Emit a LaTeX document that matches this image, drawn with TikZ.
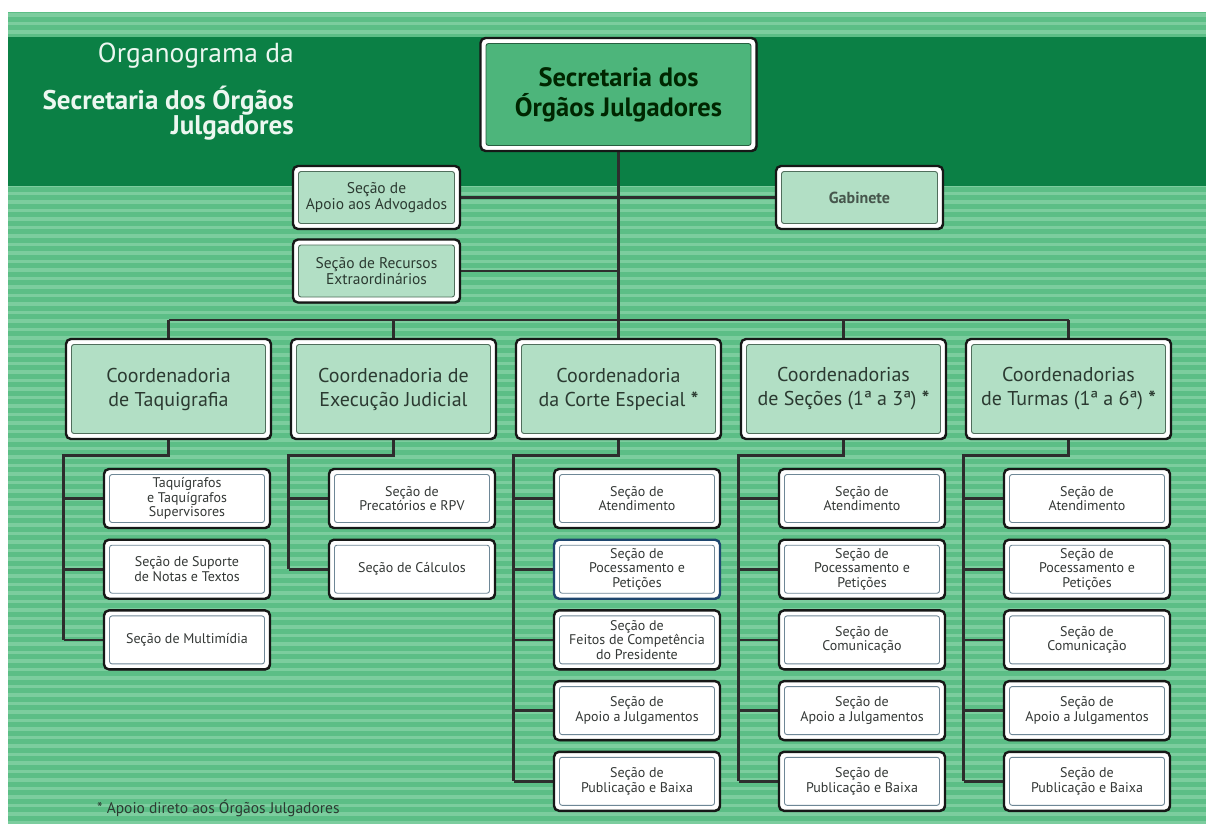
\documentclass[tikz,border=0pt]{standalone}
\usepackage{fontspec}
\setmainfont{PT Sans}
\usetikzlibrary{calc}
\pgfdeclarelayer{bg}
\pgfdeclarelayer{wires}
\pgfsetlayers{bg,wires,main}

\definecolor{stripebase}{RGB}{92,190,134}
\definecolor{stripelight}{RGB}{124,205,158}
\definecolor{band}{RGB}{11,128,69}
\definecolor{topfill}{RGB}{77,181,123}
\definecolor{topline}{RGB}{40,95,65}
\definecolor{lgreen}{RGB}{178,223,197}
\definecolor{lline}{RGB}{80,110,92}
\definecolor{wline}{RGB}{110,135,150}
\definecolor{frc}{RGB}{22,24,23}
\definecolor{bluefr}{RGB}{30,70,110}
\definecolor{wirec}{RGB}{45,45,45}
\definecolor{txt}{RGB}{43,58,49}
\definecolor{txtw}{RGB}{52,56,54}
\definecolor{gabtxt}{RGB}{70,86,76}
\definecolor{titlec}{RGB}{236,247,240}

\tikzset{
  boxfill/.store in=\bxfill,
  boxline/.store in=\bxline,
  frame/.style={rectangle, draw=#1, line width=2.4pt, rounded corners=5pt,
    fill=white, inner sep=0pt, align=center,
    preaction={fill=#1, transform canvas={xshift=0.9pt,yshift=-0.9pt}},
    path picture={\draw[draw=\bxline, fill=\bxfill, line width=0.9pt, rounded corners=2.5pt]
      ([shift={(5.5pt,5.5pt)}]path picture bounding box.south west) rectangle
      ([shift={(-5.5pt,-5.5pt)}]path picture bounding box.north east);}},
  frame/.default=frc,
  topbox/.style={frame, boxfill=topfill, boxline=topline, text=black!85!green,
    minimum width=276pt, minimum height=113pt, font=\fontsize{26.5}{30}\selectfont\bfseries},
  sidebox/.style={frame, boxfill=lgreen, boxline=lline, text=txt,
    minimum width=167pt, minimum height=63pt, font=\fontsize{15.5}{16}\selectfont},
  coordbox/.style={frame, boxfill=lgreen, boxline=lline, text=txt,
    minimum width=205pt, minimum height=100pt, font=\fontsize{20}{24}\selectfont},
  unitbox/.style={frame=#1, boxfill=white, boxline=wline, text=txtw,
    minimum width=166pt, minimum height=59pt, font=\fontsize{14}{14.5}\selectfont},
  unitbox/.default=frc,
  wire/.style={draw=wirec, line width=2.6pt},
  titletext/.style={anchor=east, inner sep=0pt, text=titlec},
}

\begin{document}
\begin{tikzpicture}[x=1pt,y=-1pt]
\useasboundingbox (0,0) rectangle (1206,823);

% striped background with the dark header band
\begin{pgfonlayer}{bg}
  \fill[white] (0,0) rectangle (1206,823);
  \begin{scope}
    \clip (8,12) rectangle (1206,823);
    \fill[stripebase] (8,12) rectangle (1206,823);
    \foreach \s in {0,...,95}
      \fill[stripelight] (8,{12+8.5*\s+1}) rectangle (1206,{12+8.5*\s+4.6});
  \end{scope}
  \fill[band] (8,37) rectangle (1206,186);
\end{pgfonlayer}

% title
\node[titletext, font=\fontsize{27.5}{30}\selectfont] (t1) at (294,56) {Organograma da};
\node[titletext, font=\fontsize{27}{30}\selectfont\bfseries] (t2) at (294,101) {Secretaria dos Órgãos};
\node[titletext, font=\fontsize{27}{30}\selectfont\bfseries] (t3) at (294,128) {Julgadores};

% head office and its direct sections
\node[topbox] (top) at (618.5,94.5) {Secretaria dos\\Órgãos Julgadores};
\node[sidebox] (apoio) at (376.5,197.5) {Seção de\\Apoio aos Advogados};
\node[sidebox] (recur) at (376.5,271) {Seção de Recursos\\Extraordinários};
\node[sidebox, text=gabtxt, font=\fontsize{16}{17}\selectfont\bfseries] (gab) at (859.5,197.5) {Gabinete};

% coordinations
\node[coordbox] (c1) at (168.5,389) {Coordenadoria\\de Taquigrafia};
\node[coordbox] (c2) at (393.5,389) {Coordenadoria de\\Execução Judicial};
\node[coordbox] (c3) at (618.5,389) {Coordenadoria\\da Corte Especial \textbf{*}};
\node[coordbox] (c4) at (843.5,389) {Coordenadorias\\de Seções (1ª a 3ª) \textbf{*}};
\node[coordbox] (c5) at (1068.5,389) {Coordenadorias\\de Turmas (1ª a 6ª) \textbf{*}};

% sections of each coordination
\node[unitbox] (t1-1) at (187,498.5) {Taquígrafos\\e Taquígrafos\\Supervisores};
\node[unitbox] (t1-2) at (187,569.2) {Seção de Suporte\\de Notas e Textos};
\node[unitbox] (t1-3) at (187,639.9) {Seção de Multimídia};

\node[unitbox] (t2-1) at (412,498.5) {Seção de\\Precatórios e RPV};
\node[unitbox] (t2-2) at (412,569.2) {Seção de Cálculos};

\node[unitbox] (t3-1) at (637,498.5) {Seção de\\Atendimento};
\node[unitbox=bluefr] (t3-2) at (637,569.2) {Seção de\\Pocessamento e\\Petições};
\node[unitbox] (t3-3) at (637,639.9) {Seção de\\Feitos de Competência\\do Presidente};
\node[unitbox] (t3-4) at (637,710.6) {Seção de\\Apoio a Julgamentos};
\node[unitbox] (t3-5) at (637,781.3) {Seção de\\Publicação e Baixa};

\node[unitbox] (t4-1) at (862,498.5) {Seção de\\Atendimento};
\node[unitbox] (t4-2) at (862,569.2) {Seção de\\Pocessamento e\\Petições};
\node[unitbox] (t4-3) at (862,639.9) {Seção de\\Comunicação};
\node[unitbox] (t4-4) at (862,710.6) {Seção de\\Apoio a Julgamentos};
\node[unitbox] (t4-5) at (862,781.3) {Seção de\\Publicação e Baixa};

\node[unitbox] (t5-1) at (1087,498.5) {Seção de\\Atendimento};
\node[unitbox] (t5-2) at (1087,569.2) {Seção de\\Pocessamento e\\Petições};
\node[unitbox] (t5-3) at (1087,639.9) {Seção de\\Comunicação};
\node[unitbox] (t5-4) at (1087,710.6) {Seção de\\Apoio a Julgamentos};
\node[unitbox] (t5-5) at (1087,781.3) {Seção de\\Publicação e Baixa};

% footnote
\node[anchor=west, inner sep=0pt, text=txt, font=\fontsize{15.5}{17}\selectfont] (note) at (97,808)
  {* Apoio direto aos Órgãos Julgadores};

% connectors
\coordinate (busL) at (168.5,320);
\coordinate (busR) at (1068.5,320);
\begin{pgfonlayer}{wires}
  \draw[wire] (top) -- (top |- busL);
  \draw[wire] (busL) -- (busR);
  \foreach \i in {1,...,5}
    \draw[wire] (c\i) -- (c\i |- busL);
  \draw[wire] (apoio) -- (gab);
  \draw[wire] (recur) -- (recur -| top);
  \foreach \i/\n in {1/3,2/2,3/5,4/5,5/5}{
    \coordinate (j\i) at ([xshift=-1.2pt,yshift=-15pt]c\i.south west);
    \draw[wire] (c\i) |- (j\i) -- (j\i |- t\i-\n);
    \foreach \r in {1,...,\n}
      \draw[wire] (j\i |- t\i-\r) -- (t\i-\r);
  }
\end{pgfonlayer}
\end{tikzpicture}
\end{document}
